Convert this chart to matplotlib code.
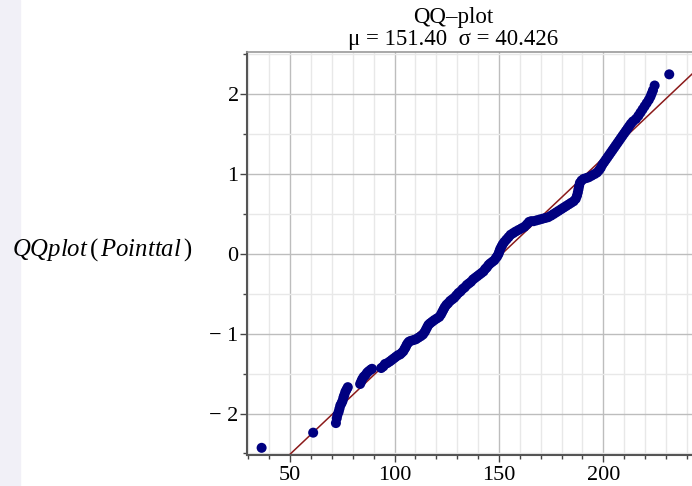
import numpy as np
import matplotlib.pyplot as plt
from matplotlib.ticker import MultipleLocator
from matplotlib.patches import Rectangle

plt.rcParams['font.family'] = ['Liberation Serif', 'DejaVu Serif']
plt.rcParams['mathtext.fontset'] = 'custom'
plt.rcParams['mathtext.rm'] = 'Liberation Serif'
plt.rcParams['mathtext.it'] = 'Liberation Serif:italic'

# sorted sample values (x) and normal quantiles (y)
sample = [36.3, 61.0, 71.9, 72.3, 72.6, 73.2, 73.6, 74.0, 74.6, 75.1, 75.5, 75.9, 76.4, 77.0, 77.6,
          83.5, 84.0, 84.5, 85.2, 86.0, 86.8, 87.6, 88.6, 89.2, 93.6, 94.6, 95.4, 96.4, 97.6, 98.6,
          99.6, 100.6, 101.6, 102.6, 103.4, 104.2, 104.8, 105.3, 105.8, 106.3, 106.9, 107.8, 109.0,
          110.2, 111.4, 112.6, 113.6, 114.4, 115.0, 115.6, 116.2, 117.0, 118.0, 119.0, 120.2, 121.4,
          122.2, 122.8, 123.4, 124.0, 124.8, 125.6, 126.6, 127.6, 128.6, 129.6, 130.6, 131.6, 132.6,
          133.6, 134.6, 135.6, 136.6, 137.6, 138.6, 139.6, 140.6, 141.6, 142.6, 143.4, 144.2, 145.0,
          145.8, 146.8, 147.8, 148.6, 149.2, 149.8, 150.2, 150.6, 151.2, 151.8, 152.6, 153.6, 154.6,
          155.6, 156.8, 158.0, 159.4, 160.8, 162.2, 163.4, 164.4, 165.4, 166.6, 168.0, 169.4, 170.8,
          172.2, 173.6, 175.0, 176.2, 177.4, 178.6, 179.8, 181.0, 182.2, 183.4, 184.6, 185.8, 186.8,
          187.4, 187.8, 188.1, 188.4, 188.8, 189.6, 190.6, 191.8, 193.0, 194.4, 195.8, 197.0, 198.0,
          198.8, 199.6, 200.4, 201.2, 202.0, 202.8, 203.6, 204.4, 205.2, 206.0, 206.8, 207.6, 208.4,
          209.2, 210.0, 210.8, 211.6, 212.4, 213.2, 214.2, 215.6, 216.8, 217.8, 218.8, 219.8, 220.8,
          221.8, 222.6, 223.2, 223.8, 224.6, 231.6]
quant = [-2.43, -2.24, -2.12, -2.06, -2.02, -1.98, -1.94, -1.90, -1.87, -1.84, -1.80, -1.77, -1.73,
         -1.70, -1.67, -1.63, -1.60, -1.57, -1.54, -1.52, -1.49, -1.47, -1.45, -1.44, -1.43, -1.41,
         -1.38, -1.37, -1.35, -1.33, -1.31, -1.29, -1.27, -1.26, -1.24, -1.22, -1.19, -1.17, -1.14,
         -1.12, -1.10, -1.09, -1.08, -1.07, -1.05, -1.03, -1.01, -0.98, -0.95, -0.92, -0.89, -0.87,
         -0.85, -0.83, -0.81, -0.79, -0.76, -0.73, -0.70, -0.67, -0.64, -0.62, -0.59, -0.57, -0.55,
         -0.52, -0.49, -0.47, -0.44, -0.42, -0.39, -0.37, -0.35, -0.32, -0.30, -0.28, -0.26, -0.24,
         -0.22, -0.19, -0.17, -0.14, -0.12, -0.10, -0.08, -0.05, -0.03, 0.00, 0.03, 0.06, 0.09, 0.12,
         0.15, 0.18, 0.21, 0.24, 0.26, 0.28, 0.30, 0.32, 0.34, 0.37, 0.40, 0.41, 0.41, 0.42, 0.43,
         0.44, 0.45, 0.46, 0.48, 0.50, 0.52, 0.54, 0.56, 0.58, 0.60, 0.62, 0.64, 0.66, 0.69, 0.73,
         0.77, 0.81, 0.85, 0.89, 0.92, 0.94, 0.95, 0.96, 0.98, 1.00, 1.02, 1.05, 1.08, 1.12, 1.15,
         1.18, 1.21, 1.24, 1.27, 1.30, 1.33, 1.36, 1.39, 1.42, 1.45, 1.48, 1.51, 1.54, 1.57, 1.60,
         1.63, 1.66, 1.69, 1.73, 1.77, 1.81, 1.85, 1.89, 1.93, 1.97, 2.01, 2.05, 2.11, 2.25]
mu = 151.40
sigma = 40.426
xticks = [50, 100, 150, 200]
yticks = [-2, -1, 0, 1, 2]
ylabels = ['\u2212 2', '\u2212 1', '0', '1', '2']

fig = plt.figure(figsize=(6.92, 4.86), dpi=100)
ax = fig.add_axes([247 / 692, 31 / 486, 445 / 692, 403 / 486])

# reference line through mu, sigma
xl = np.array([mu - 2.6 * sigma, mu + 2.6 * sigma])
ax.plot(xl, (xl - mu) / sigma, color='#8b1a1a', lw=1.1, zorder=2)
ax.scatter(sample, quant, s=52, color='#000080', edgecolors='none', zorder=3)

ax.set_xlim(29.3, 242.5)
ax.set_ylim(-2.52, 2.53)
ax.set_xticks(xticks)
ax.set_yticks(yticks)
ax.set_yticklabels(ylabels)
ax.xaxis.set_minor_locator(MultipleLocator(10))
ax.yaxis.set_minor_locator(MultipleLocator(0.5))
ax.grid(which='major', color='#bdbdbd', lw=1.0)
ax.grid(which='minor', color='#e8e8e8', lw=1.0)
ax.set_axisbelow(True)
ax.tick_params(which='both', direction='out', colors='#444444', labelcolor='black',
               labelsize=16, width=1)
ax.tick_params(which='major', length=5)
ax.tick_params(which='minor', length=3)
ax.tick_params(axis='y', pad=1)
ax.tick_params(axis='x', pad=3)
for s in ['left', 'bottom']:
    ax.spines[s].set_color('#555555')
    ax.spines[s].set_linewidth(1.5)
ax.spines['top'].set_color('#9a9a9a')
ax.spines['top'].set_linewidth(1.2)
ax.spines['right'].set_visible(False)

fig.text(453 / 692, 1 - 18 / 486, 'QQ\u2013plot', ha='center', va='center', fontsize=16.5)
fig.text(453 / 692, 1 - 40 / 486, '\u03bc = 151.40  \u03c3 = 40.426', ha='center', va='center',
         fontsize=16.5)
fig.text(12 / 692, 1 - 250 / 486, r'$QQplot\,(\,Pointtal\,)$', ha='left', va='center',
         fontsize=17.8)

fig.patches.append(Rectangle((0, 0), 20 / 692, 1, transform=fig.transFigure,
                             color='#f1f0f7', zorder=0))

fig.savefig('out.png', dpi=100)
